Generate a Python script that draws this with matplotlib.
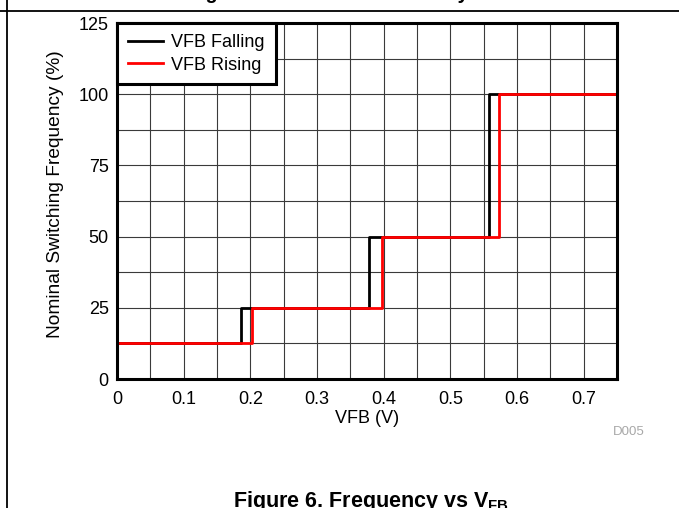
import matplotlib
matplotlib.use("Agg")
import matplotlib.pyplot as plt
from matplotlib import ticker
from matplotlib.lines import Line2D

plt.rcParams['font.family'] = ['Liberation Sans', 'DejaVu Sans']

# step edges (V) and frequency levels (%)
vfb_falling = [0, 0.186, 0.378, 0.558, 0.75]
vfb_rising = [0, 0.2025, 0.3975, 0.573, 0.75]
freq_levels = [12.5, 25, 50, 100, 100]

x_ticks = [0, 0.1, 0.2, 0.3, 0.4, 0.5, 0.6, 0.7]
y_ticks = [0, 25, 50, 75, 100, 125]

fs = 13

fig = plt.figure(figsize=(6.79, 5.08), dpi=100)
ax = fig.add_axes([117/679, 1-379/508, 500/679, 356/508])

ax.plot(vfb_falling, freq_levels, drawstyle='steps-post', color='black',
        lw=2.0, label='VFB Falling', zorder=3)
ax.plot(vfb_rising, freq_levels, drawstyle='steps-post', color='#ff0000',
        lw=2.0, label='VFB Rising', zorder=4)

ax.set_xlim(0, 0.75)
ax.set_ylim(0, 125)
ax.set_xticks(x_ticks)
ax.set_xticklabels([f"{v:g}" for v in x_ticks])
ax.set_yticks(y_ticks)
ax.xaxis.set_minor_locator(ticker.MultipleLocator(0.05))
ax.yaxis.set_minor_locator(ticker.MultipleLocator(12.5))
ax.grid(which='both', color='#3a3a3a', lw=0.8)
ax.set_axisbelow(True)
ax.tick_params(which='both', length=0, labelsize=fs)
ax.tick_params(axis='x', pad=9)
ax.tick_params(axis='y', pad=6)

for s in ax.spines.values():
    s.set_linewidth(2.2)
    s.set_zorder(5)

ax.set_xlabel('VFB (V)', fontsize=fs, labelpad=1)
ax.set_ylabel('Nominal Switching Frequency (%)', fontsize=13.8)
ax.yaxis.set_label_coords(-0.106, 0.52)

leg = ax.legend(loc='upper left', fontsize=fs, fancybox=False,
                framealpha=1, edgecolor='black', borderaxespad=0,
                handlelength=1.95, handletextpad=0.45, borderpad=0.6,
                labelspacing=0.32)
leg.get_frame().set_linewidth(2.2)
leg.set_zorder(6)

fig.text(629/679, 1-432/508, 'D005', color='#a8a8a8', fontsize=9.5,
         ha='center', va='center')

# page frame lines
fig.add_artist(Line2D([0, 1], [1-11/508, 1-11/508], color='black', lw=1.3))
fig.add_artist(Line2D([7/679, 7/679], [0, 1], color='black', lw=1.3))

# captions running past the page edges
fig.text(188/679, 1.0 + 1/508, 'Figure 5. Transition Boundary',
         fontsize=14.2, fontweight='bold', ha='left', va='baseline')
fig.text(233/679, 1-507/508, 'Figure 6. Frequency vs V$_{\\mathregular{FB}}$',
         fontsize=15.5, fontweight='bold', ha='left', va='baseline')

fig.savefig('out.png', dpi=100)
